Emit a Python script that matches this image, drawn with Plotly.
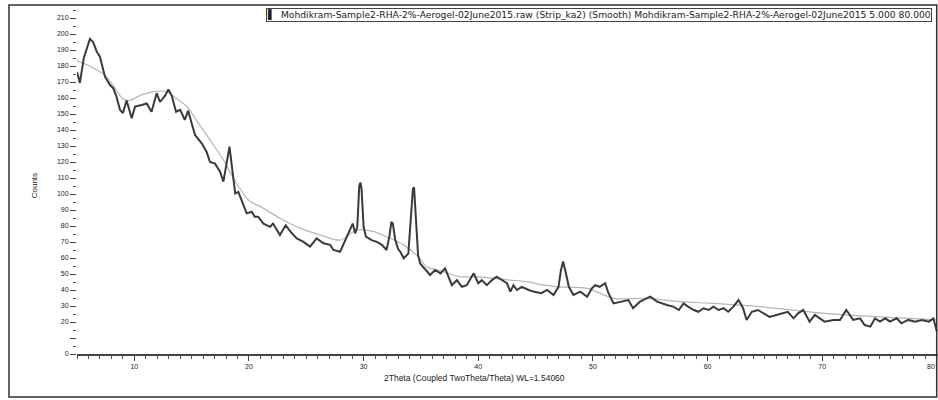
import plotly.graph_objects as go

# Raw (Strip ka2) pattern
raw_x = [5.0, 5.25, 5.6, 6.13, 6.4, 6.72, 7.0, 7.44, 7.88, 8.17, 8.46, 8.75, 9.0, 9.33, 9.77,
         10.06, 10.64, 11.08, 11.5, 11.95, 12.24, 12.68, 12.97, 13.26, 13.64, 14.0, 14.4, 14.7,
         15.0, 15.3, 15.88, 16.3, 16.6, 17.04, 17.48, 17.77, 18.3, 18.58, 18.8, 19.07, 19.5, 19.8,
         20.24, 20.5, 20.8, 21.26, 21.84, 22.1, 22.7, 23.2, 23.6, 24.17, 24.75, 25.33, 25.9, 26.5,
         27.08, 27.37, 27.95, 28.39, 28.8, 29.05, 29.26, 29.45, 29.62, 29.72, 29.82, 30.0, 30.2,
         30.7, 31.15, 31.6, 32.0, 32.25, 32.42, 32.55, 32.75, 33.0, 33.2, 33.5, 33.9, 34.1, 34.3,
         34.4, 34.55, 34.75, 34.93, 35.2, 35.8, 36.24, 36.7, 37.1, 37.4, 37.7, 38.13, 38.57, 39.0,
         39.6, 40.0, 40.3, 40.75, 41.2, 41.6, 42.05, 42.5, 42.8, 43.07, 43.37, 43.8, 44.4, 44.8,
         45.5, 46.0, 46.56, 47.0, 47.2, 47.4, 47.6, 47.9, 48.3, 48.9, 49.5, 49.9, 50.2, 50.6,
         51.07, 51.36, 51.8, 52.4, 53.1, 53.5, 54.1, 55.0, 55.6, 56.45, 57.0, 57.5, 57.9, 58.3,
         58.8, 59.2, 59.65, 60.1, 60.5, 60.96, 61.4, 61.8, 62.25, 62.7, 63.1, 63.4, 63.86, 64.4,
         64.85, 65.4, 66.0, 66.6, 67.0, 67.5, 67.9, 68.35, 68.9, 69.36, 69.8, 70.2, 70.97, 71.55,
         72.1, 72.7, 73.3, 73.7, 74.2, 74.6, 75.04, 75.5, 75.9, 76.5, 76.9, 77.5, 78.1, 78.7,
         79.3, 79.7, 80.0]
raw_y = [176.3, 169.4, 185.2, 197.0, 195.0, 189.1, 185.8, 173.3, 168.1, 166.0, 160.5, 152.6, 150.6,
         158.5, 147.3, 154.6, 155.6, 156.6, 151.4, 163.0, 157.5, 161.5, 165.4, 161.5, 151.4, 152.6,
         146.3, 152.1, 144.2, 136.8, 131.7, 126.4, 120.0, 119.0, 113.9, 107.7, 129.6, 115.1, 100.3,
         101.3, 93.4, 87.9, 88.9, 85.8, 85.8, 81.5, 79.5, 81.5, 74.4, 80.5, 76.6, 72.3, 70.1, 67.1,
         72.3, 69.2, 68.2, 65.0, 63.9, 71.2, 78.5, 81.5, 75.4, 79.5, 105.2, 107.2, 103.2, 79.5,
         73.3, 71.2, 70.1, 68.2, 65.0, 73.6, 82.5, 81.5, 71.6, 65.7, 63.9, 59.8, 62.7, 81.5, 103.2,
         104.2, 86.4, 61.8, 56.6, 54.5, 49.4, 52.5, 50.4, 53.5, 48.3, 43.0, 46.2, 42.0, 43.0, 50.4,
         44.2, 46.2, 43.0, 46.2, 48.3, 46.2, 44.2, 39.0, 43.0, 40.0, 42.0, 40.0, 39.0, 38.0, 40.0,
         36.9, 42.0, 51.9, 57.8, 51.9, 42.0, 36.9, 39.0, 35.8, 41.0, 43.0, 42.0, 44.2, 38.0, 31.6,
         32.7, 33.7, 28.6, 32.7, 35.8, 32.7, 30.6, 29.6, 27.5, 31.6, 29.6, 27.5, 26.4, 28.6, 27.5,
         29.6, 27.5, 28.6, 26.4, 29.6, 33.7, 28.6, 21.3, 26.4, 27.5, 25.4, 23.2, 24.4, 25.4, 26.4,
         22.3, 25.4, 27.5, 20.2, 24.4, 22.3, 20.2, 21.3, 21.3, 27.5, 21.3, 22.3, 18.1, 17.1, 22.3,
         20.2, 22.3, 20.2, 22.3, 19.2, 21.3, 20.2, 21.3, 20.2, 22.3, 14.0]

# Smoothed background curve
smooth_x = [5.0, 6.0, 7.0, 7.3, 8.1, 9.0, 9.6, 10.6, 11.7, 12.8, 13.7, 14.6, 15.4, 16.6, 17.8, 18.9,
            20.1, 21.0, 22.7, 24.5, 26.2, 27.95, 29.4, 30.85, 32.0, 33.5, 34.9, 35.5, 37.0, 38.4,
            39.9, 41.3, 42.8, 44.2, 45.7, 47.1, 49.5, 51.8, 54.7, 57.6, 60.5, 64.6, 70.2, 75.0, 80.0]
smooth_y = [183.2, 180.3, 176.3, 175.3, 168.4, 159.5, 158.5, 161.9, 164.0, 164.0, 159.5, 154.6, 146.3,
            133.8, 121.0, 106.7, 95.3, 92.1, 84.8, 78.5, 74.4, 71.2, 77.5, 76.6, 73.3, 68.2, 59.8,
            54.5, 51.4, 48.3, 48.3, 47.3, 46.2, 45.2, 43.0, 42.0, 41.0, 34.8, 34.8, 32.7, 31.6, 29.6,
            25.4, 23.2, 21.3]

x_tickvals = [10, 20, 30, 40, 50, 60, 70, 80]
x_ticktext = ["10", "20", "30", "40", "50", "60", "70", ""]
x_last_label = "80"
y_tickvals = [0, 10, 20, 30, 40, 50, 60, 70, 80, 90, 100, 110, 120, 130, 140, 150, 160, 170, 180,
              190, 200, 210]
y_ticktext = ["0", ""] + [str(v) for v in y_tickvals[2:]]

legend_text = ("Mohdikram-Sample2-RHA-2%-Aerogel-02June2015.raw (Strip_ka2) (Smooth) "
               "Mohdikram-Sample2-RHA-2%-Aerogel-02June2015 5.000 80.000")

FONT = "Liberation Sans, Arial, sans-serif"
TXT = "#222222"

fig = go.Figure()
fig.add_trace(go.Scatter(x=smooth_x, y=smooth_y, mode="lines",
                         line=dict(color="#b5b5b5", width=1.2, shape="spline", smoothing=0.8),
                         showlegend=False))
fig.add_trace(go.Scatter(x=raw_x, y=raw_y, mode="lines",
                         line=dict(color="#3a3a3a", width=2),
                         showlegend=False))

fig.update_layout(
    width=938, height=400,
    margin=dict(l=77, r=0, t=10, b=46, autoexpand=False),
    paper_bgcolor="white", plot_bgcolor="white",
    font=dict(family=FONT, size=7, color=TXT),
    xaxis=dict(range=[5, 80.1], tickvals=x_tickvals, ticktext=x_ticktext, ticks="outside",
               ticklen=5, tickcolor="#444", showline=True, linecolor="#444", linewidth=1.5,
               showgrid=False, zeroline=False, automargin=False,
               tickfont=dict(size=7, color=TXT, family=FONT),
               minor=dict(dtick=1, ticks="outside", ticklen=3, tickcolor="#555", showgrid=False)),
    yaxis=dict(range=[0, 215], tickvals=y_tickvals, ticktext=y_ticktext, ticks="outside",
               ticklen=6, tickcolor="#444", showline=False, showgrid=False, zeroline=False,
               automargin=False, tickfont=dict(size=7, color=TXT, family=FONT),
               minor=dict(dtick=5, ticks="outside", ticklen=3, tickcolor="#555", showgrid=False)),
)

# last x tick label, kept inside the page edge
fig.add_annotation(text=x_last_label, x=x_tickvals[-1], xref="x", yref="paper", y=0,
                   yshift=-12, showarrow=False, xanchor="right", yanchor="middle",
                   font=dict(size=7, color=TXT, family=FONT))
fig.add_annotation(text="2Theta (Coupled TwoTheta/Theta) WL=1.54060", xref="paper", yref="paper",
                   x=0.462, y=-0.07, showarrow=False,
                   font=dict(size=8.5, color=TXT, family=FONT),
                   xanchor="center", yanchor="middle")
fig.add_annotation(text="Counts", xref="paper", yref="paper", x=-0.049, y=0.49,
                   showarrow=False, textangle=-90, font=dict(size=8, color=TXT, family=FONT),
                   xanchor="center", yanchor="middle")
fig.add_annotation(text="\u258c  " + legend_text, xref="paper", yref="paper", x=0.993, y=0.985,
                   showarrow=False, xanchor="right", yanchor="middle",
                   font=dict(size=9.2, color=TXT, family="DejaVu Sans, sans-serif"),
                   bordercolor="#444", borderwidth=1, borderpad=0, bgcolor="white")
fig.add_shape(type="rect", xref="paper", yref="paper", x0=-0.079, x1=0.9985, y0=-0.125, y1=1.0145,
              line=dict(color="#333", width=1.5))

fig.write_html("out.html", config={"displayModeBar": False},
               post_script="document.body.style.margin='0';")
